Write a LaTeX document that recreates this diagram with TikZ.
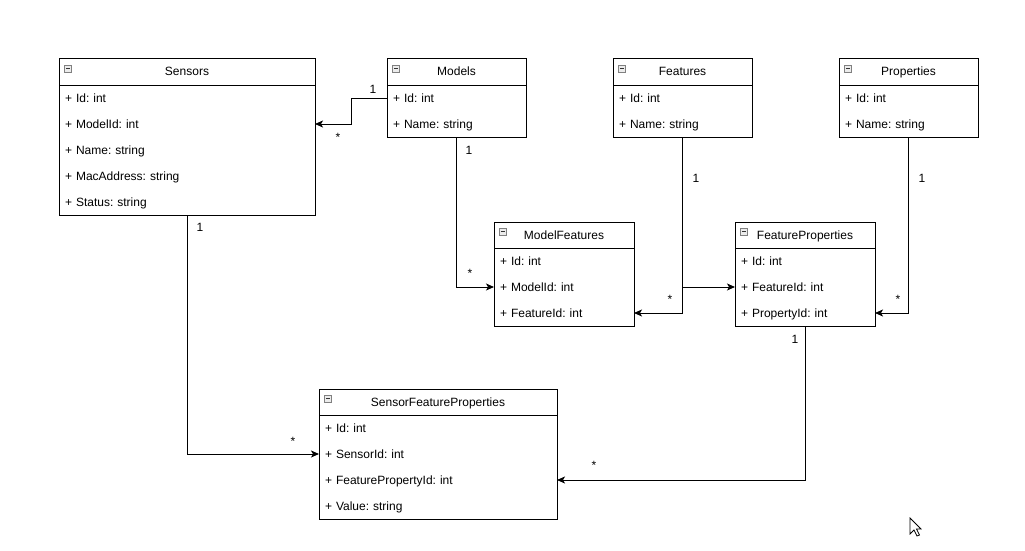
\documentclass[tikz,border=0pt]{standalone}
\usepackage{fontspec}
\setmainfont{Liberation Sans}
\frenchspacing
\usetikzlibrary{positioning,arrows.meta}

\begin{document}
\begin{tikzpicture}[x=1pt, y=-1pt, line width=1pt, >={Stealth[length=8pt,width=7pt,inset=2pt]},
  classhead/.style={rectangle, draw, anchor=north west, minimum width=#1, minimum height=26pt, inner sep=0pt, outer sep=0pt, text height=10pt, text depth=2pt, font=\fontsize{12pt}{14pt}\selectfont},
  classrow/.style={rectangle, text width=#1, minimum height=26pt, inner xsep=6pt, inner ysep=0pt, outer sep=0pt, align=left, text height=10pt, text depth=2pt, font=\fontsize{12pt}{14pt}\selectfont},
  toggle/.style={rectangle, draw=gray, fill=gray!15, line width=0.8pt, minimum size=7pt, inner sep=0pt, anchor=north west, xshift=5pt, yshift=-6pt, path picture={\draw[line width=1pt, black!80] ([xshift=1.5pt]path picture bounding box.west) -- ([xshift=-1.5pt]path picture bounding box.east);}},
  mult/.style={inner sep=0pt, font=\fontsize{12pt}{14pt}\selectfont}]
  \useasboundingbox (0,0) rectangle (1025,551);

  % Sensors
  \node[classhead=256pt] (sensors) at (59,59) {Sensors};
  \node[toggle] (sensors_tgl) at (sensors.north west) {};
  \node[classrow=244pt, below=0pt of sensors] (sensors_id) {+ Id: int};
  \node[classrow=244pt, below=0pt of sensors_id] (sensors_modelid) {+ ModelId: int};
  \node[classrow=244pt, below=0pt of sensors_modelid] (sensors_name) {+ Name: string};
  \node[classrow=244pt, below=0pt of sensors_name] (sensors_mac) {+ MacAddress: string};
  \node[classrow=244pt, below=0pt of sensors_mac] (sensors_status) {+ Status: string};
  \draw (sensors.north west) rectangle (sensors_status.south east);

  % Models
  \node[classhead=139pt] (models) at (387,59) {Models};
  \node[toggle] (models_tgl) at (models.north west) {};
  \node[classrow=127pt, below=0pt of models] (models_id) {+ Id: int};
  \node[classrow=127pt, below=0pt of models_id] (models_name) {+ Name: string};
  \draw (models.north west) rectangle (models_name.south east);

  % Features
  \node[classhead=139pt] (features) at (613,59) {Features};
  \node[toggle] (features_tgl) at (features.north west) {};
  \node[classrow=127pt, below=0pt of features] (features_id) {+ Id: int};
  \node[classrow=127pt, below=0pt of features_id] (features_name) {+ Name: string};
  \draw (features.north west) rectangle (features_name.south east);

  % Properties
  \node[classhead=139pt] (properties) at (839,59) {Properties};
  \node[toggle] (properties_tgl) at (properties.north west) {};
  \node[classrow=127pt, below=0pt of properties] (properties_id) {+ Id: int};
  \node[classrow=127pt, below=0pt of properties_id] (properties_name) {+ Name: string};
  \draw (properties.north west) rectangle (properties_name.south east);

  % ModelFeatures
  \node[classhead=140pt] (mf) at (494,222) {ModelFeatures};
  \node[toggle] (mf_tgl) at (mf.north west) {};
  \node[classrow=128pt, below=0pt of mf] (mf_id) {+ Id: int};
  \node[classrow=128pt, below=0pt of mf_id] (mf_modelid) {+ ModelId: int};
  \node[classrow=128pt, below=0pt of mf_modelid] (mf_featureid) {+ FeatureId: int};
  \draw (mf.north west) rectangle (mf_featureid.south east);

  % FeatureProperties
  \node[classhead=140pt] (fp) at (735,222) {FeatureProperties};
  \node[toggle] (fp_tgl) at (fp.north west) {};
  \node[classrow=128pt, below=0pt of fp] (fp_id) {+ Id: int};
  \node[classrow=128pt, below=0pt of fp_id] (fp_featureid) {+ FeatureId: int};
  \node[classrow=128pt, below=0pt of fp_featureid] (fp_propertyid) {+ PropertyId: int};
  \draw (fp.north west) rectangle (fp_propertyid.south east);

  % SensorFeatureProperties
  \node[classhead=238pt] (sfp) at (319,389) {SensorFeatureProperties};
  \node[toggle] (sfp_tgl) at (sfp.north west) {};
  \node[classrow=226pt, below=0pt of sfp] (sfp_id) {+ Id: int};
  \node[classrow=226pt, below=0pt of sfp_id] (sfp_sensorid) {+ SensorId: int};
  \node[classrow=226pt, below=0pt of sfp_sensorid] (sfp_fpid) {+ FeaturePropertyId: int};
  \node[classrow=226pt, below=0pt of sfp_fpid] (sfp_value) {+ Value: string};
  \draw (sfp.north west) rectangle (sfp_value.south east);

  % relations
  \draw[->] (models_id.west) -- ++(-36,0) |- (sensors_modelid.east);
  \draw[->] (models_name.south) |- (mf_modelid.west);
  \draw[->] (features_name.south) |- (mf_featureid.east);
  \draw[->] (features_name.south) |- (fp_featureid.west);
  \draw[->] (properties_name.south) |- (fp_propertyid.east);
  \draw[->] (sensors_status.south) |- (sfp_sensorid.west);
  \draw[->] (fp_propertyid.south) |- (sfp_fpid.east);

  % multiplicities
  \node[mult] (m1a) at (373,89) {1};
  \node[mult] (m1b) at (338,137) {*};
  \node[mult] (m2a) at (469,150) {1};
  \node[mult] (m2b) at (470,273) {*};
  \node[mult] (m3a) at (696,178) {1};
  \node[mult] (m3b) at (670,299) {*};
  \node[mult] (m4a) at (922,178) {1};
  \node[mult] (m4b) at (898,299) {*};
  \node[mult] (m5a) at (200,227) {1};
  \node[mult] (m5b) at (293,441) {*};
  \node[mult] (m6a) at (795,339) {1};
  \node[mult] (m6b) at (594,465) {*};

  % pointer
  \draw[line width=0.8pt, fill=white, line join=miter] (910,518) -- (910,534) -- (914,530) -- (917,536) -- (919.5,535) -- (916.5,529) -- (921,529) -- cycle;
\end{tikzpicture}
\end{document}
